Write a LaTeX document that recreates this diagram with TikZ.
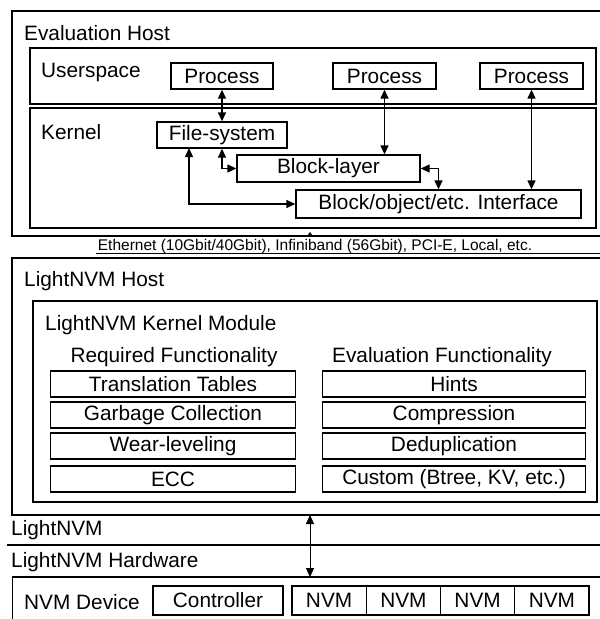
\documentclass[tikz,border=0pt]{standalone}
\usepackage{fontspec}
\setmainfont{Liberation Sans}
\usetikzlibrary{arrows.meta}
\begin{document}
\begin{tikzpicture}[x=1pt,y=-1pt,
  box/.style={draw, line width=1.3pt, inner sep=0pt, font=\fontsize{20.8}{24}\selectfont},
  frame/.style={draw, line width=1.3pt, inner sep=0pt},
  lbl/.style={anchor=west, inner sep=0pt, font=\fontsize{20.8}{24}\selectfont},
  edge/.style={line width=1.3pt},
  conn/.style={line width=1.3pt, {Triangle[length=9pt,width=8pt]}-{Triangle[length=9pt,width=8pt]}}]
\useasboundingbox (0,0) rectangle (600,619);

% ---------- Evaluation Host ----------
\draw[edge] (600,11) -- (12,11) -- (12,236) -- (600,236);
\node[lbl] (evh) at (24,33) {Evaluation Host};
\node[frame, minimum width=566pt, minimum height=56pt] (us) at (313,76) {};
\node[lbl] (usl) at (41,72) {Userspace};
\node[frame, minimum width=566pt, minimum height=120pt] (kn) at (313,168) {};
\node[lbl] (knl) at (41,132) {Kernel};

\node[box, minimum width=102pt, minimum height=26pt] (p1) at (222,76) {Process};
\node[box, minimum width=103pt, minimum height=26pt] (p2) at (384.5,76) {Process};
\node[box, minimum width=103pt, minimum height=26pt] (p3) at (531.5,76) {Process};
\node[box, minimum width=130pt, minimum height=26pt] (fs) at (222,135) {File-system};
\node[box, minimum width=183pt, minimum height=27pt] (bl) at (328.5,168.5) {Block-layer};
\node[box, minimum width=285pt, minimum height=28pt] (ifc) at (438.5,204) {Block/object/etc. Interface};

\draw[conn] (p1.south) -- (fs.north);
\draw[conn] (p2.south) -- (p2.south |- bl.north);
\draw[conn] (p3.south) -- (p3.south |- ifc.north);
\draw[conn] (fs.south) |- (bl.west);
\coordinate (fsl) at (189,148);
\draw[conn] (fsl) |- (ifc.west);
\draw[conn] (bl.east) -| (ifc.north);

\coordinate (tipA) at (310,236);
\coordinate (tipB) at (310,232);
\draw[line width=0.6pt, -{Triangle[length=3pt,width=4pt]}] (tipA) -- (tipB);

% ---------- Link ----------
\node[inner sep=0pt, font=\fontsize{15.5}{18}\selectfont] (eth) at (315,246) {Ethernet (10Gbit/40Gbit), Infiniband (56Gbit), PCI-E, Local, etc.};
\draw[line width=0.8pt] (96,253.5) -- (600,253.5);

% ---------- LightNVM Host ----------
\draw[edge] (600,258) -- (12,258) -- (12,515) -- (600,515);
\node[lbl] (lnh) at (24,281) {LightNVM Host};
\node[frame, minimum width=564pt, minimum height=201pt] (km) at (315,401.5) {};
\node[lbl] (kml) at (45,325) {LightNVM Kernel Module};
\node[inner sep=0pt, font=\fontsize{20.8}{24}\selectfont] (req) at (174,357) {Required Functionality};
\node[inner sep=0pt, font=\fontsize{20.8}{24}\selectfont] (evf) at (442,357) {Evaluation Functionality};

\node[box, minimum width=245pt, minimum height=26pt] (tt) at (173,384) {Translation Tables};
\node[box, minimum width=245pt, minimum height=26pt] (gc) at (173,415) {Garbage Collection};
\node[box, minimum width=245pt, minimum height=26pt] (wl) at (173,446) {Wear-leveling};
\node[box, minimum width=245pt, minimum height=26pt] (ecc) at (173,479) {ECC};
\node[box, minimum width=263pt, minimum height=26pt] (hi) at (454,384) {Hints};
\node[box, minimum width=263pt, minimum height=26pt] (co) at (454,415) {Compression};
\node[box, minimum width=263pt, minimum height=26pt] (de) at (454,446) {Deduplication};
\node[box, minimum width=263pt, minimum height=26pt] (cu) at (454,479) {Custom (Btree, KV, etc.)};

% ---------- LightNVM layers ----------
\node[lbl] (lnv) at (11,530) {LightNVM};
\draw[edge] (7,545) -- (600,545);
\node[lbl] (lnhw) at (11,562) {LightNVM Hardware};

% ---------- NVM Device ----------
\draw[edge] (600,577) -- (12.5,577) -- (12.5,619);
\node[lbl] (nvd) at (24,602) {NVM Device};
\node[box, minimum width=130pt, minimum height=29pt] (ctl) at (218,600.5) {Controller};
\node[box, minimum width=74.25pt, minimum height=29pt] (n1) at (329.1,600.5) {NVM};
\node[box, minimum width=74.25pt, minimum height=29pt] (n2) at (403.4,600.5) {NVM};
\node[box, minimum width=74.25pt, minimum height=29pt] (n3) at (477.6,600.5) {NVM};
\node[box, minimum width=74.25pt, minimum height=29pt] (n4) at (551.9,600.5) {NVM};

\coordinate (hostbot) at (310,515);
\coordinate (devtop) at (310,577);
\draw[conn, line width=1pt] (hostbot) -- (devtop);
\end{tikzpicture}
\end{document}
